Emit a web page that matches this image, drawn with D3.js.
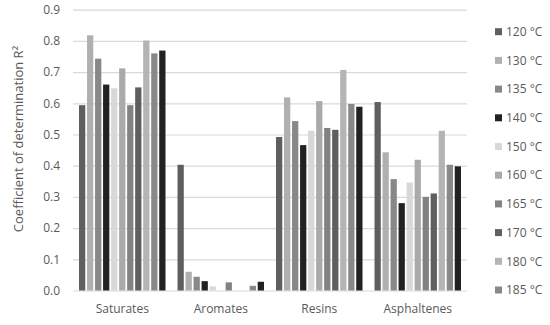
<!DOCTYPE html>
<html>
<head>
<meta charset="utf-8">
<script src="https://cdn.jsdelivr.net/npm/d3@7"></script>
<style>
	body { margin: 0; background: #fff; }
	svg text { font-family: "Open Sans", sans-serif; fill: #595959; }
</style>
</head>
<body>
<div id="chart"></div>
<script>
// fractions on the x axis
var categories = ["Saturates", "Aromates", "Resins", "Asphaltenes"];

// one series per temperature (the last one has no visible legend entry)
var seriesNames = ["120 °C", "130 °C", "135 °C", "140 °C", "150 °C",
	"160 °C", "165 °C", "170 °C", "180 °C", "185 °C", "190 °C"];
var seriesColors = ["#5f5f5f", "#b0b0b0", "#888888", "#222222", "#d8d8d8",
	"#aaaaaa", "#828282", "#5f5f5f", "#b4b4b4", "#888888", "#222222"];

// R² values, one row per series, in category order
var values = [
	[0.594, 0.403, 0.492, 0.604],
	[0.818, 0.060, 0.619, 0.443],
	[0.743, 0.044, 0.543, 0.357],
	[0.660, 0.030, 0.466, 0.280],
	[0.648, 0.013, 0.512, 0.346],
	[0.712, 0.000, 0.607, 0.419],
	[0.594, 0.026, 0.521, 0.300],
	[0.651, 0.000, 0.515, 0.311],
	[0.801, 0.000, 0.707, 0.512],
	[0.760, 0.015, 0.598, 0.403],
	[0.769, 0.028, 0.589, 0.398]
];

var yTicks = [0, 0.1, 0.2, 0.3, 0.4, 0.5, 0.6, 0.7, 0.8, 0.9];
var legendCount = 10; // only ten entries fit in the picture

var width = 550, height = 325;
var plot = {left: 73, right: 467, top: 9.7, bottom: 290.5};

var svg = d3.select("#chart").append("svg")
	.attr("width", width)
	.attr("height", height);

var x0 = d3.scaleBand()
	.domain(categories)
	.range([plot.left, plot.right]);

var x1 = d3.scaleBand()
	.domain(d3.range(seriesNames.length))
	.range([0, x0.bandwidth()])
	.paddingInner(0.22)
	.paddingOuter(0.75);

var y = d3.scaleLinear()
	.domain([0, 0.9])
	.range([plot.bottom, plot.top]);

// gridlines + tick labels
var yAxis = d3.axisLeft(y)
	.tickValues(yTicks)
	.tickFormat(d3.format(".1f"))
	.tickSize(-(plot.right - plot.left))
	.tickPadding(13);

var gy = svg.append("g")
	.attr("transform", "translate(" + plot.left + ",0)")
	.call(yAxis);
gy.select(".domain").remove();
gy.selectAll("line").attr("stroke", "#d9d9d9").attr("stroke-width", 1.2);
gy.selectAll("text")
	.style("font-size", "12px")
	.attr("fill", "#595959");

// bars
var groups = svg.selectAll("g.cat")
	.data(categories)
	.enter().append("g")
	.attr("class", "cat")
	.attr("transform", function(d) { return "translate(" + x0(d) + ",0)"; });

groups.selectAll("rect")
	.data(function(d, ci) {
		return values.map(function(row, si) { return {s: si, v: row[ci]}; });
	})
	.enter().append("rect")
	.attr("x", function(d) { return x1(d.s); })
	.attr("width", x1.bandwidth())
	.attr("y", function(d) { return y(d.v); })
	.attr("height", function(d) { return y(0) - y(d.v); })
	.attr("fill", function(d) { return seriesColors[d.s]; });

// category labels
var xAxis = d3.axisBottom(x0).tickSize(0).tickPadding(14);
var gx = svg.append("g")
	.attr("transform", "translate(0," + plot.bottom + ")")
	.call(xAxis);
gx.select(".domain").remove();
gx.selectAll("text")
	.style("font-size", "12px")
	.attr("fill", "#595959");

// y title
svg.append("text")
	.attr("transform", "translate(18,139) rotate(-90)")
	.attr("text-anchor", "middle")
	.attr("dy", "0.35em")
	.style("font-size", "13px")
	.text("Coefficient of determination R²");

// legend
var legend = svg.selectAll("g.legend")
	.data(seriesNames.slice(0, legendCount))
	.enter().append("g")
	.attr("class", "legend")
	.attr("transform", function(d, i) { return "translate(495," + (31.7 + i * 28.7) + ")"; });

legend.append("rect")
	.attr("x", 0)
	.attr("y", -3.5)
	.attr("width", 7)
	.attr("height", 7)
	.attr("fill", function(d, i) { return seriesColors[i]; });

legend.append("text")
	.attr("x", 11)
	.attr("dy", "0.35em")
	.style("font-size", "12px")
	.text(function(d) { return d; });
</script>
</body>
</html>
